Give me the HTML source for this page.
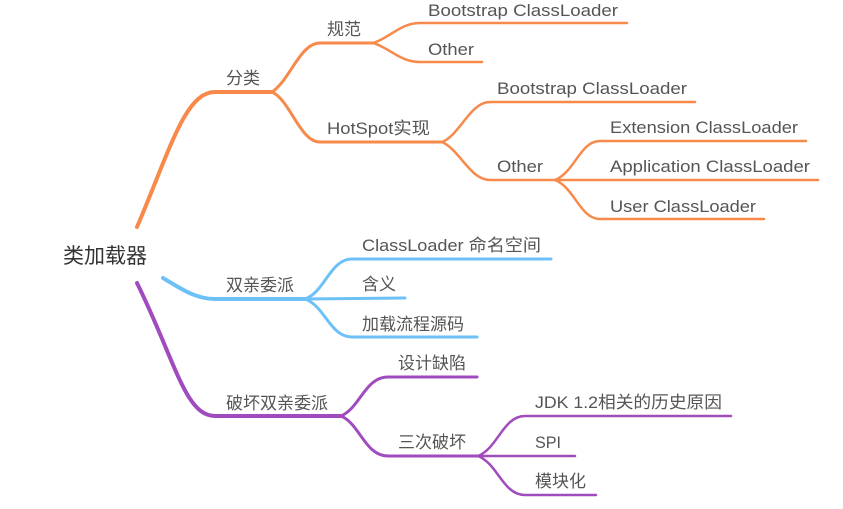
<!DOCTYPE html>
<html><head><meta charset="utf-8"><style>
html,body{margin:0;padding:0;background:#fff;}
svg text{font-family:"Liberation Sans","Noto Sans CJK SC",sans-serif;fill:#555;font-size:17px;}
</style></head><body>
<svg width="843" height="504" viewBox="0 0 843 504" xmlns="http://www.w3.org/2000/svg">
<g fill="none" stroke-linecap="round">
<g stroke="#F7894B">
<path d="M137 227 C170 150,185 92,215 92 L272 92" stroke-width="4"/>
<path d="M272 92 C290 80,300 43,320 43 L373 43" stroke-width="3"/>
<path d="M272 92 C290 100,300 142,320 142 L442 142" stroke-width="3"/>
<path d="M373 43 C390 38,400 23,420 23 L627 23" stroke-width="2.5"/>
<path d="M373 43 C390 48,400 62,420 62 L482 62" stroke-width="2.5"/>
<path d="M442 142 C460 135,470 102,490 102 L695 102" stroke-width="2.5"/>
<path d="M442 142 C460 150,470 180,490 180 L555 180" stroke-width="2.5"/>
<path d="M555 180 C575 172,580 141,600 141 L806 141" stroke-width="2.5"/>
<path d="M555 180 L818 180" stroke-width="2.5"/>
<path d="M555 180 C575 188,580 219,600 219 L764 219" stroke-width="2.5"/>
</g>
<g stroke="#6EC1F7">
<path d="M163 278 C180 288,195 299,215 299 L305 299" stroke-width="4"/>
<path d="M305 299 C325 292,330 259,352 259 L551 259" stroke-width="3"/>
<path d="M305 299 L405 298" stroke-width="3"/>
<path d="M305 299 C325 306,330 337,352 337 L477 337" stroke-width="3"/>
</g>
<g stroke="#A04BBE">
<path d="M137 283 C175 360,185 416,215 416 L341 416" stroke-width="4"/>
<path d="M341 416 C360 408,365 377,388 377 L477 377" stroke-width="3"/>
<path d="M341 416 C360 424,365 456,388 456 L478 456" stroke-width="3"/>
<path d="M478 456 C498 448,503 416,525 416 L731 416" stroke-width="2.5"/>
<path d="M478 456 L575 456" stroke-width="2.5"/>
<path d="M478 456 C498 464,503 495,525 495 L596 495" stroke-width="2.5"/>
</g>
</g>
<text x="63" y="263" style="font-size:21px;fill:#333">类加载器</text>
<text x="226" y="84">分类</text>
<text x="327" y="35">规范</text>
<text x="327" y="134" textLength="103" lengthAdjust="spacingAndGlyphs">HotSpot实现</text>
<text x="428" y="16" textLength="190" lengthAdjust="spacingAndGlyphs">Bootstrap ClassLoader</text>
<text x="428" y="55" textLength="46" lengthAdjust="spacingAndGlyphs">Other</text>
<text x="497" y="94" textLength="190" lengthAdjust="spacingAndGlyphs">Bootstrap ClassLoader</text>
<text x="497" y="172" textLength="46" lengthAdjust="spacingAndGlyphs">Other</text>
<text x="610" y="133" textLength="188" lengthAdjust="spacingAndGlyphs">Extension ClassLoader</text>
<text x="610" y="172" textLength="200" lengthAdjust="spacingAndGlyphs">Application ClassLoader</text>
<text x="610" y="212" textLength="146" lengthAdjust="spacingAndGlyphs">User ClassLoader</text>
<text x="226" y="291">双亲委派</text>
<text x="362" y="251" textLength="179" lengthAdjust="spacingAndGlyphs">ClassLoader 命名空间</text>
<text x="362" y="290">含义</text>
<text x="362" y="330">加载流程源码</text>
<text x="226" y="409">破坏双亲委派</text>
<text x="398" y="369">设计缺陷</text>
<text x="398" y="448">三次破坏</text>
<text x="535" y="408" textLength="187" lengthAdjust="spacingAndGlyphs">JDK 1.2相关的历史原因</text>
<text x="535" y="448" textLength="26" lengthAdjust="spacingAndGlyphs">SPI</text>
<text x="535" y="487">模块化</text>
</svg>
</body></html>
